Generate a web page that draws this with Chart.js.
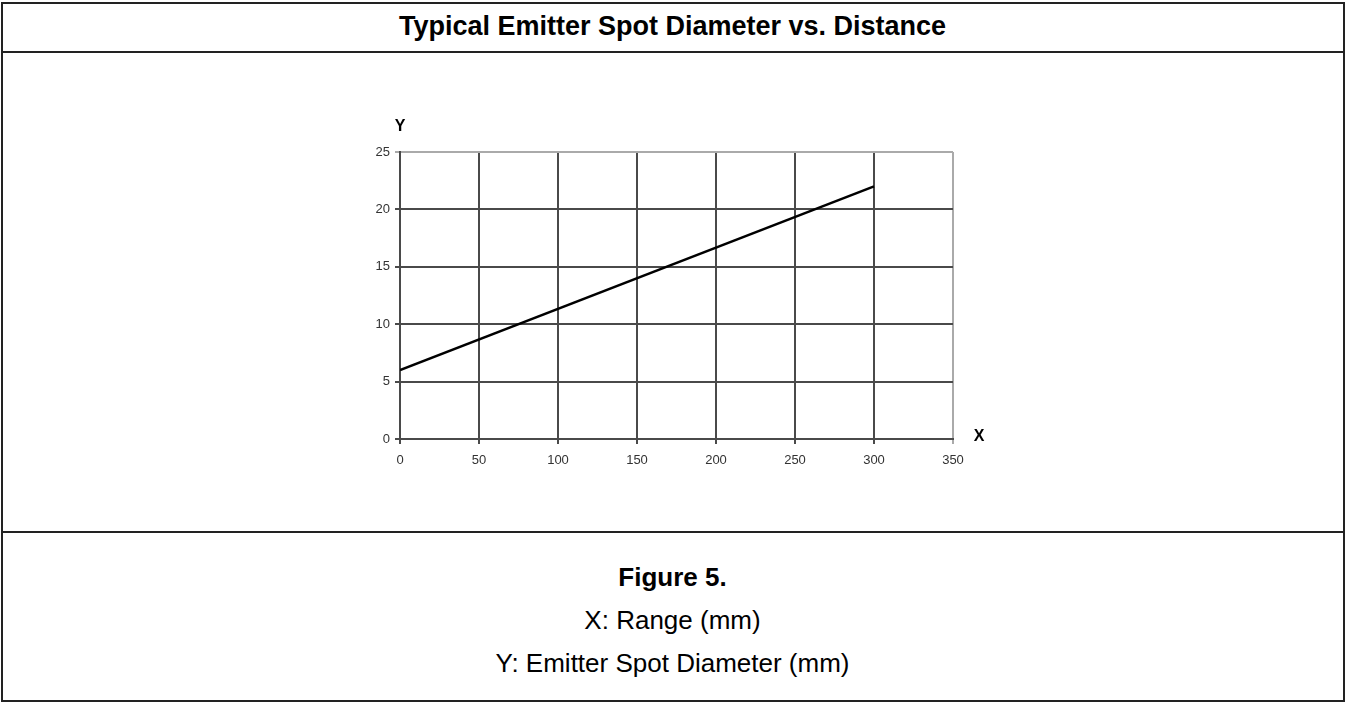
<!DOCTYPE html>
<html>
<head>
<meta charset="utf-8">
<script src="https://cdn.jsdelivr.net/npm/chart.js@4"></script>
<style>
  html, body { margin: 0; padding: 0; background: #fff; }
  body { width: 1345px; height: 702px; position: relative; overflow: hidden;
         font-family: "Liberation Sans", Arial, sans-serif; color: #000; }
  .frame { position: absolute; left: 1px; top: 2px; width: 1340px; height: 696px;
           border: 2px solid #222; }
  .sep { position: absolute; left: 1px; width: 1344px; height: 2px; background: #222; }
  .title { position: absolute; left: 0; width: 1345px; text-align: center;
           font-weight: bold; font-size: 27px; line-height: 30px; top: 11px; }
  .cap { position: absolute; left: 0; width: 1345px; text-align: center;
         font-size: 26px; line-height: 30px; }
  #wrap { position: absolute; left: 340px; top: 100px; width: 680px; height: 380px; }
</style>
</head>
<body>
<div class="frame"></div>
<div class="sep" style="top:51px"></div>
<div class="sep" style="top:531px"></div>
<div class="title">Typical Emitter Spot Diameter vs. Distance</div>
<div class="cap" style="top:562px;font-weight:bold">Figure 5.</div>
<div class="cap" style="top:605px">X: Range (mm)</div>
<div class="cap" style="top:648px">Y: Emitter Spot Diameter (mm)</div>
<div id="wrap"><canvas id="chart"></canvas></div>
<script>
// ===== Data =====
const rangeMm = [0, 300];
const spotDiameterMm = [6, 22];
const xTicks = [0, 50, 100, 150, 200, 250, 300, 350];
const yTicks = [0, 5, 10, 15, 20, 25];

// ===== Axis letters =====
const axisLetters = {
  id: "axisLetters",
  afterDraw(chart) {
    const { ctx, chartArea } = chart;
    ctx.save();
    ctx.fillStyle = "#000";
    ctx.font = "bold 16px 'Liberation Sans', Arial, sans-serif";
    ctx.textAlign = "center";
    ctx.textBaseline = "middle";
    ctx.fillText("Y", chartArea.left, chartArea.top - 25);
    ctx.fillText("X", chartArea.right + 26, chartArea.bottom - 2);
    ctx.restore();
  },
};

const gridColor = (edge) => (c) => (c.tick && c.tick.value === edge ? "#aaa" : "#4a4a4a");

new Chart(document.getElementById("chart"), {
  type: "line",
  data: {
    datasets: [
      {
        data: rangeMm.map((x, i) => ({ x: x, y: spotDiameterMm[i] })),
        borderColor: "#000",
        borderWidth: 2.5,
        pointRadius: 0,
        tension: 0,
      },
    ],
  },
  options: {
    responsive: true,
    maintainAspectRatio: false,
    animation: false,
    layout: { padding: { left: 0, top: 52, right: 67, bottom: 11 } },
    plugins: { legend: { display: false }, tooltip: { enabled: false } },
    scales: {
      x: {
        type: "linear",
        min: xTicks[0],
        max: xTicks[xTicks.length - 1],
        afterBuildTicks: (s) => { s.ticks = xTicks.map((v) => ({ value: v })); },
        afterFit: (s) => { s.height = 30; },
        grid: { color: gridColor(350), lineWidth: 2, tickLength: 5 },
        border: { color: "#4a4a4a", width: 2 },
        ticks: { color: "#333", padding: 9, maxRotation: 0,
                 font: { family: "'Liberation Sans', Arial", size: 13 } },
      },
      y: {
        min: yTicks[0],
        max: yTicks[yTicks.length - 1],
        afterBuildTicks: (s) => { s.ticks = yTicks.map((v) => ({ value: v })); },
        afterFit: (s) => { s.width = 60; },
        grid: { color: gridColor(25), lineWidth: 2, tickLength: 5 },
        border: { color: "#4a4a4a", width: 2 },
        ticks: { color: "#333", padding: 5,
                 font: { family: "'Liberation Sans', Arial", size: 13 } },
      },
    },
  },
  plugins: [axisLetters],
});
</script>
</body>
</html>
